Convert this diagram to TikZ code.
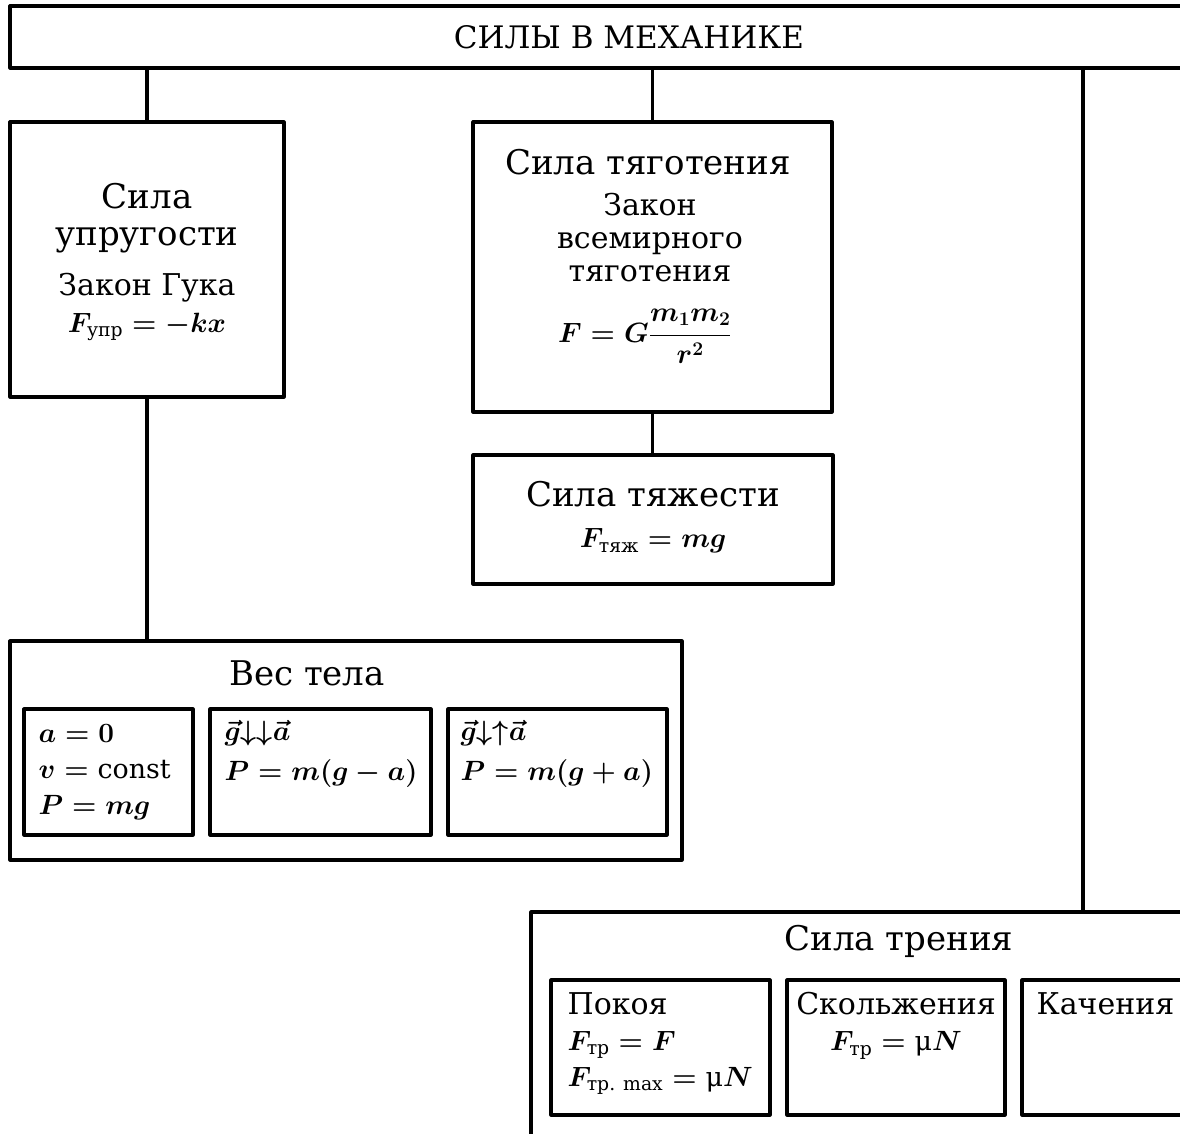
\documentclass[tikz,border=0pt]{standalone}
\usepackage{amsmath}
\usepackage{graphicx}
\usepackage{fontspec}
\setmainfont{DejaVu Serif}
\newcommand{\fml}[1]{{\fontsize{24}{33}\selectfont\boldmath\scalebox{1.12}{$#1$}}}

\begin{document}
\begin{tikzpicture}[
  x=1pt,
  y=-1pt,
  line join=round,
  frame/.style={draw=black,line width=3.2pt,inner sep=0pt,rectangle},
  link/.style={draw=black,line width=3.2pt},
  head/.style={font=\fontsize{34}{37}\selectfont,align=center,inner sep=0pt},
  body/.style={font=\fontsize{30}{33}\selectfont,align=center,inner sep=0pt},
  note/.style={font=\fontsize{30}{36}\selectfont,align=left,inner sep=0pt,anchor=north west}
]
  \useasboundingbox (0,0) rectangle (1180,1134);
  \clip (0,0) rectangle (1180,1134);

  % Top bar, cut by the right edge.
  \node[frame,minimum width=1238pt,minimum height=62pt,font=\fontsize{31}{34}\selectfont] (top) at (629,37) {СИЛЫ В МЕХАНИКЕ};

  % Elastic force.
  \node[frame,minimum width=274pt,minimum height=275pt] (upr) at (147,259.5) {};
  \node[head] (uprname) at (147,218) {Сила\\упругости};
  \node[body] (uprlaw) at (147,307) {Закон Гука\\[4pt]\fml{F_{\text{упр}}=-kx}};

  % Gravitation.
  \node[frame,minimum width=359pt,minimum height=290pt] (tyag) at (652.5,267) {};
  \node[head] (tyagname) at (648,162) {Сила тяготения};
  \node[body] (tyaglaw) at (650,238) {Закон\\всемирного\\тяготения};
  \node[body] (tyagform) at (645,336) {\fml{F=G\dfrac{m_1m_2}{r^2}}};

  % Gravity.
  \node[frame,minimum width=360pt,minimum height=129pt] (tyazh) at (653,519.5) {};
  \node[head] (tyazhname) at (653,494) {Сила тяжести};
  \node[body] (tyazhform) at (653,541) {\fml{F_{\text{тяж}}=mg}};

  % Weight and its three cases.
  \node[frame,minimum width=672pt,minimum height=219pt] (ves) at (346,750.5) {};
  \node[head] (vesname) at (307,673) {Вес тела};
  \node[frame,minimum width=169pt,minimum height=126pt] (vesA) at (108.5,772) {};
  \node[frame,minimum width=221pt,minimum height=126pt] (vesB) at (320.5,772) {};
  \node[frame,minimum width=219pt,minimum height=126pt] (vesC) at (557.5,772) {};
  \node[note] (vesAtext) at ([xshift=16pt,yshift=-17pt]vesA.north west) {\fml{a=0}\\\fml{v=\text{const}}\\\fml{P=mg}};
  \node[note] (vesBtext) at ([xshift=16pt,yshift=-13pt]vesB.north west) {\fml{\vec g{\downarrow}{\downarrow}\vec a}\\[4pt]\fml{P=m(g-a)}};
  \node[note] (vesCtext) at ([xshift=14pt,yshift=-13pt]vesC.north west) {\fml{\vec g{\downarrow}{\uparrow}\vec a}\\[4pt]\fml{P=m(g+a)}};

  % Friction, cut by the right and bottom edges.
  \node[frame,minimum width=736pt,minimum height=238pt] (tren) at (899,1031) {};
  \node[head] (trenname) at (899,941) {Сила трения};
  \node[frame,minimum width=219pt,minimum height=135pt] (trenP) at (660.5,1047.5) {};
  \node[frame,minimum width=218pt,minimum height=135pt] (trenS) at (896,1047.5) {};
  \node[frame,minimum width=218pt,minimum height=135pt] (trenK) at (1131,1047.5) {};
  \node[note] (trenPtext) at ([xshift=18pt,yshift=-14pt]trenP.north west) {Покоя\\\fml{F_{\text{тр}}=F}\\\fml{F_{\text{тр. max}}=\text{μ}N}};
  \node[body,anchor=north] (trenStext) at ([yshift=-14pt]trenS.north) {Скольжения\\[3pt]\fml{F_{\text{тр}}=\text{μ}N}};
  \node[note] (trenKtext) at ([xshift=16pt,yshift=-14pt]trenK.north west) {Качения};

  % Connectors.
  \coordinate (trenjoin) at (1083,912);
  \draw[link] (top.south -| upr.north) -- (upr.north);
  \draw[link] (top.south -| tyag.north) -- (tyag.north);
  \draw[link] (tyag.south) -- (tyag.south |- tyazh.north);
  \draw[link] (upr.south) -- (upr.south |- ves.north);
  \draw[link] (top.south -| trenjoin) -- (trenjoin);
\end{tikzpicture}
\end{document}
